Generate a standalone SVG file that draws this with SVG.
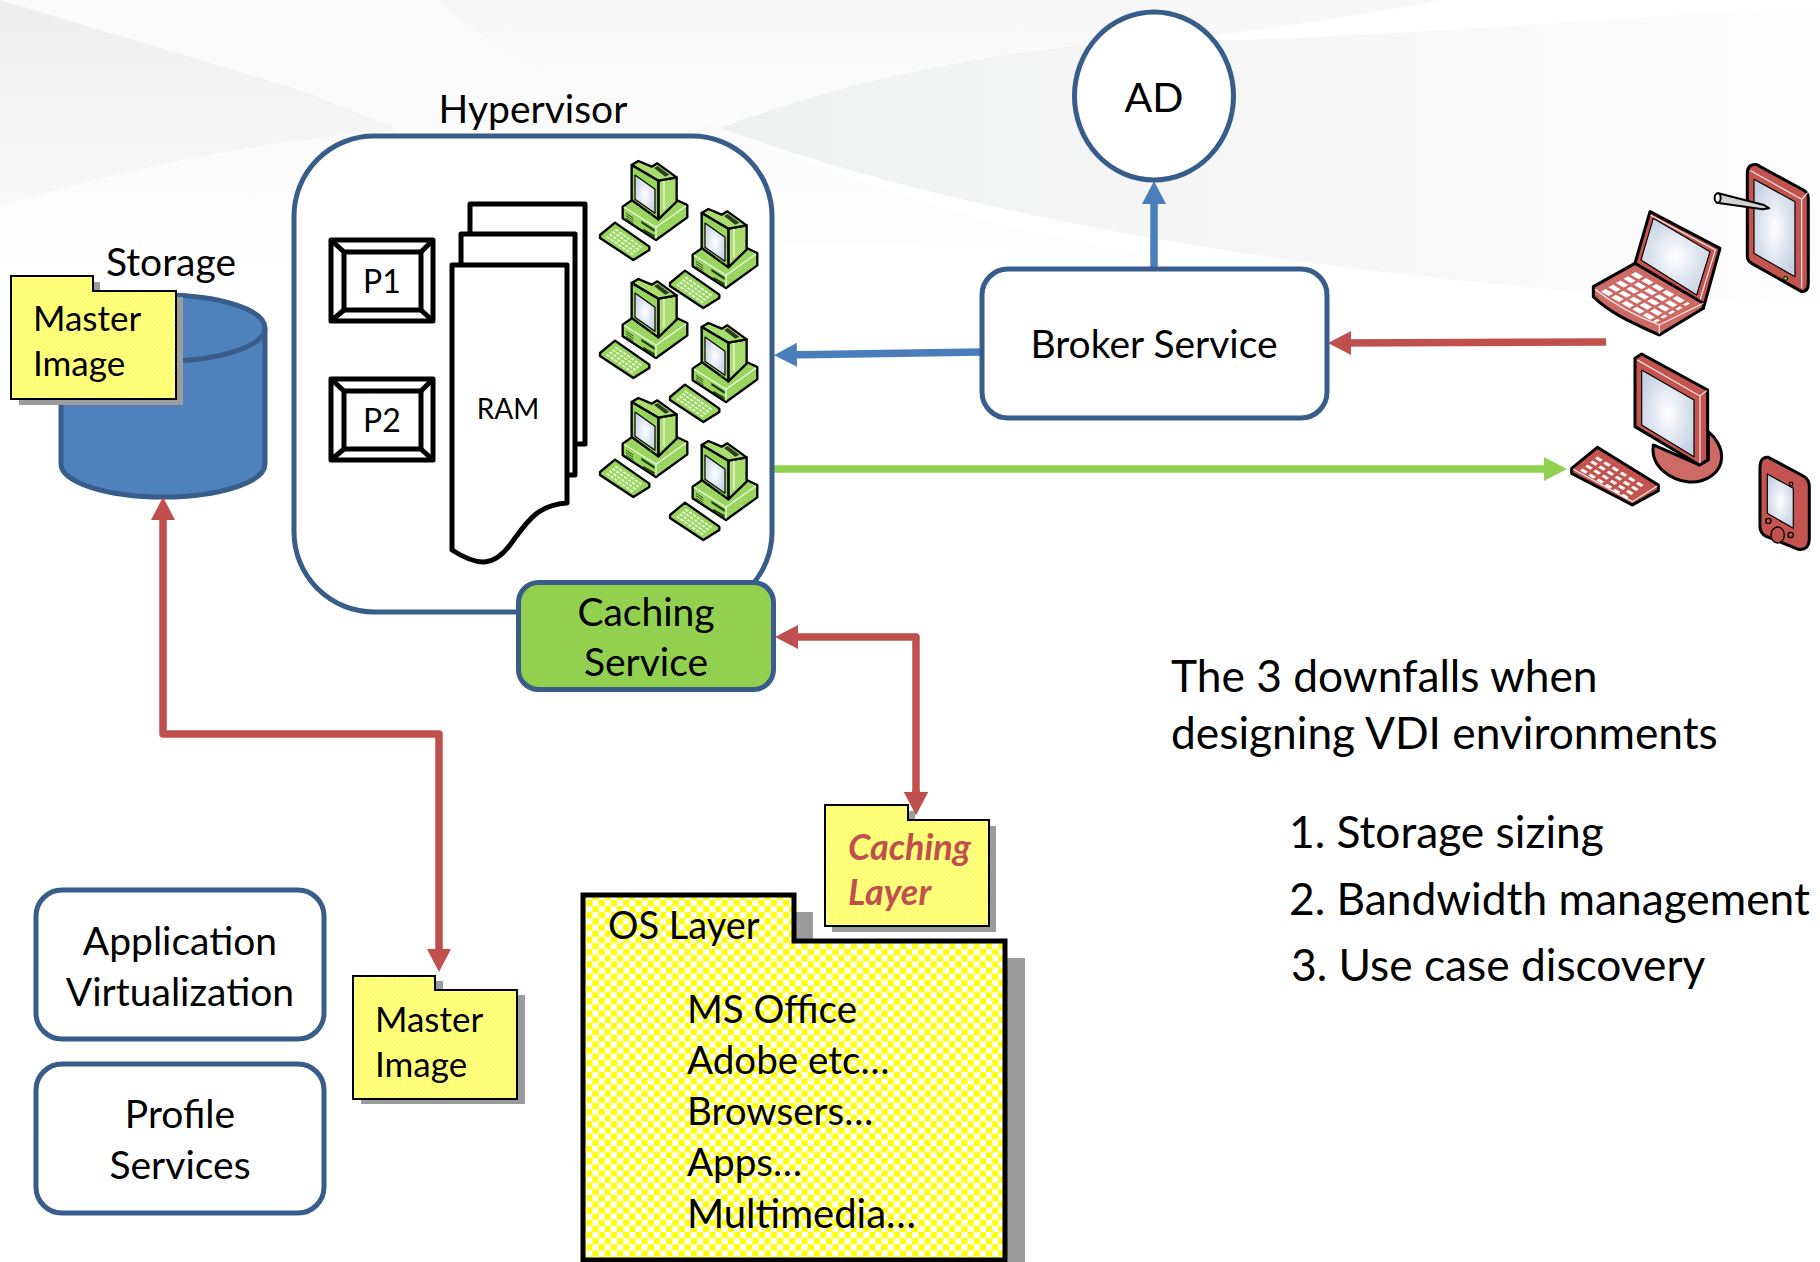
<svg xmlns="http://www.w3.org/2000/svg" xmlns:xlink="http://www.w3.org/1999/xlink" width="1820" height="1262" viewBox="0 0 1820 1262">
<style>
text{font-family:"Lato","Carlito","Liberation Sans",sans-serif;fill:#000;font-size:39px}
.c{text-anchor:middle}
.f{font-size:35px}
.o{font-size:38.6px}
.r{font-size:44.3px}
.cl{font-weight:700;font-style:italic;fill:#c0504d;font-size:36px}
.box{fill:#fff;stroke:#385d8a;stroke-width:5}
.k{stroke:#000;stroke-width:5;stroke-linejoin:round;fill:#fff}
.conn{fill:none;stroke-width:7.5;stroke-linejoin:round}
.sh{fill:#9c9c9c}
.pc{stroke:#000;stroke-width:7;stroke-linejoin:round}
.hl{stroke:#fff;stroke-width:3.5;fill:none;opacity:.9}
.rd{fill:#c4544f;stroke:#000;stroke-width:9;stroke-linejoin:round}
.rl{fill:#cd6a66;stroke:#000;stroke-width:9;stroke-linejoin:round}
.scr{fill:url(#scr);stroke:#000;stroke-width:3.5;stroke-linejoin:round}
</style>
<defs>
<radialGradient id="scr" cx=".5" cy=".5" r=".6"><stop offset="0" stop-color="#fff"/><stop offset="1" stop-color="#c3cfe2"/></radialGradient>
<linearGradient id="g1" x1="0" y1="0" x2="0" y2="1"><stop offset="0" stop-color="#eeeeee"/><stop offset="1" stop-color="#f9f9f9"/></linearGradient>
<linearGradient id="g2" x1="0" y1="0" x2="1" y2="0"><stop offset="0" stop-color="#eff0f0"/><stop offset=".55" stop-color="#f7f7f7"/><stop offset="1" stop-color="#fefefe"/></linearGradient>
<linearGradient id="g4" x1="0" y1="0" x2="0" y2="1"><stop offset="0" stop-color="#f7f7f7"/><stop offset="1" stop-color="#fdfdfd"/></linearGradient>
<linearGradient id="g5" x1="0" y1="0" x2="0" y2="1"><stop offset="0" stop-color="#fbfbfb"/><stop offset="1" stop-color="#fff"/></linearGradient>
<pattern id="chk" width="12.3" height="12.3" patternUnits="userSpaceOnUse" x="2" y="2"><rect width="12.3" height="12.3" fill="#ff0"/><rect width="6.15" height="6.15" fill="#fff"/><rect x="6.15" y="6.15" width="6.15" height="6.15" fill="#fff"/></pattern>
<pattern id="chs" width="4.8" height="4.8" patternUnits="userSpaceOnUse"><rect width="4.8" height="4.8" fill="#ffff4a"/><rect width="2.4" height="2.4" fill="#ffffa8"/><rect x="2.4" y="2.4" width="2.4" height="2.4" fill="#ffffa8"/></pattern>
<marker id="mr" markerUnits="userSpaceOnUse" markerWidth="24" markerHeight="26" refX="13" refY="12.5" orient="auto-start-reverse"><path d="M0 .5L23 12.5L0 24.5Z" fill="#c0504d"/></marker>
<marker id="mb" markerUnits="userSpaceOnUse" markerWidth="24" markerHeight="26" refX="13" refY="12.5" orient="auto-start-reverse"><path d="M0 .5L23 12.5L0 24.5Z" fill="#4a7ebb"/></marker>
<marker id="mg" markerUnits="userSpaceOnUse" markerWidth="24" markerHeight="26" refX="13" refY="12.5" orient="auto-start-reverse"><path d="M0 .5L23 12.5L0 24.5Z" fill="#92d050"/></marker>
<g id="pc" transform="scale(.3333)">
<path class="pc" fill="#9ad65f" d="M128 170L160 148L290 150L322 165L322 202L228 270L128 205Z"/>
<path class="hl" d="M132 172L228 232L318 168M228 232V266"/>
<path d="M138 190L160 204M138 197L160 211M138 204L160 218" stroke="#1d3a0a" stroke-width="2.5"/>
<path d="M184 212L224 238V246L184 220ZM190 236L224 256V262L190 242Z" fill="#1d3a0a"/>
<path class="pc" fill="#a9dd70" d="M235 92L290 82V155L235 208Z"/>
<path class="pc" fill="#a9dd70" d="M155 45L175 33L215 50L232 40L290 82L235 92Z"/>
<path d="M222 54L233 48L268 74L256 80Z" fill="#2b3d22"/>
<path class="pc" fill="#97d45c" d="M155 45L235 92V208L155 150Z"/>
<path class="scr" d="M165 75L225 118V190L165 148Z"/>
<circle cx="214" cy="192" r="4" fill="#2d5016"/>
<path class="hl" d="M252 92V178"/>
<path class="pc" fill="#9ad65f" d="M60 255L105 218L208 290V300L160 330L60 264Z"/>
<g transform="matrix(.98 .68 -.43 .36 106 226)"><path d="M8 18H92M8 38H92M8 58H92M8 78H92" stroke="#eff9e3" stroke-width="10" stroke-dasharray="8 4" fill="none"/></g>
</g>
</defs>

<g id="background">
<rect width="1820" height="1262" fill="#fff"/>
<path d="M0 0H438C500 60 600 100 720 128L400 130L300 90Z" fill="#fbfbfb"/>
<path d="M0 0V206C120 170 260 140 400 130L300 90Z" fill="url(#g1)"/>
<path d="M0 206C120 170 260 140 400 130C550 125 650 128 720 128C900 200 1000 230 1200 262C800 230 400 240 0 290Z" fill="url(#g5)"/>
<path d="M438 0C500 60 600 100 720 128C880 70 1240 40 1440 0Z" fill="url(#g4)"/>
<path d="M720 128C900 60 1100 35 1240 40C1400 35 1600 20 1820 5V305C1400 290 1000 230 720 128Z" fill="url(#g2)"/>
</g>

<g id="connectors">
<path class="conn" stroke="#4a7ebb" d="M1154 269V191" marker-end="url(#mb)"/>
<path class="conn" stroke="#4a7ebb" d="M982 352L784 355" marker-end="url(#mb)"/>
<path class="conn" stroke="#c0504d" d="M1606 342L1338 343" marker-end="url(#mr)"/>
<path class="conn" stroke="#92d050" d="M772 469H1557" marker-end="url(#mg)" stroke-width="6"/>
</g>

<g id="hypervisor"><rect class="box" x="294" y="136" width="478" height="476" rx="80"/></g>
<text x="533" y="123" class="c">Hypervisor</text>

<g id="cpu1"><rect class="k" x="331" y="240" width="102" height="81"/><rect class="k" x="344" y="252" width="77" height="58"/><path d="M331 240L344 252M433 240L421 252M331 321L344 310M433 321L421 310" stroke="#000" stroke-width="5"/><text x="382" y="293" class="c" style="font-size:32px">P1</text></g>
<g id="cpu2"><rect class="k" x="331" y="379" width="102" height="81"/><rect class="k" x="344" y="391" width="77" height="58"/><path d="M331 379L344 391M433 379L421 391M331 460L344 449M433 460L421 449" stroke="#000" stroke-width="5"/><text x="382" y="432" class="c" style="font-size:32px">P2</text></g>

<g id="ram">
<path class="k" d="M470 204H585V444H470Z"/>
<path class="k" d="M461 234H575V475H461Z"/>
<path class="k" d="M452 265H567V503C535 505 525 525 510 545C495 565 480 568 452 550Z"/>
<text x="508" y="419" class="c" style="font-size:28px">RAM</text>
</g>

<g id="pcs">
<use href="#pc" x="580" y="150"/>
<use href="#pc" x="650" y="198"/>
<use href="#pc" x="580" y="268"/>
<use href="#pc" x="650" y="312"/>
<use href="#pc" x="580" y="387"/>
<use href="#pc" x="650" y="430"/>
</g>

<g id="caching-service"><rect x="518.5" y="582.5" width="255" height="107" rx="20" fill="#92d050" stroke="#385d8a" stroke-width="5"/><text x="646" y="626" class="c">Caching</text><text x="646" y="676" class="c">Service</text></g>

<g id="connectors2">
<path class="conn" stroke="#c0504d" d="M785 637H916V805" marker-start="url(#mr)" marker-end="url(#mr)"/>
</g>

<g id="ad"><ellipse class="box" cx="1154" cy="96" rx="79.5" ry="84"/><text x="1154" y="112" class="c" style="font-size:41px">AD</text></g>
<g id="broker"><rect class="box" x="982" y="269" width="345" height="149" rx="26"/><text x="1154" y="358" class="c">Broker Service</text></g>

<g id="storage">
<path d="M61 328V464A102 33 0 0 0 265 464V328" fill="#4f81bd" stroke="#385d8a" stroke-width="5"/>
<ellipse cx="163" cy="328" rx="102" ry="33" fill="#4f81bd" stroke="#385d8a" stroke-width="5"/>
</g>
<text x="171" y="276" class="c">Storage</text>

<g id="storage-image">
<path class="sh" d="M19 282H100V297H183V405H19Z"/>
<path d="M11 276H93V291H176V399H11Z" fill="url(#chs)" stroke="#000" stroke-width="2"/>
<text x="33" y="331" class="f">Master</text><text x="33" y="376" class="f">Image</text>
</g>

<g id="connectors3">
<path class="conn" stroke="#c0504d" d="M163 507V734H439V962" marker-start="url(#mr)" marker-end="url(#mr)"/>
</g>

<g id="app-virt"><rect class="box" x="36" y="890" width="288" height="149" rx="26"/><text x="180" y="955" class="c">Application</text><text x="180" y="1006" class="c">Virtualization</text></g>
<g id="profile"><rect class="box" x="36" y="1064" width="288" height="149" rx="26"/><text x="180" y="1128" class="c">Profile</text><text x="180" y="1179" class="c">Services</text></g>

<g id="master-image">
<path class="sh" d="M361 981H443V995H525V1104H361Z"/>
<path d="M353 976H435V990H517V1099H353Z" fill="url(#chs)" stroke="#000" stroke-width="2"/>
<text x="375" y="1032" class="f">Master</text><text x="375" y="1077" class="f">Image</text>
</g>

<g id="caching-layer">
<path class="sh" d="M832 811H915V826H996V932H832Z"/>
<path d="M825 805H908V820H989V926H825Z" fill="url(#chs)" stroke="#000" stroke-width="2"/>
<text x="848" y="860" class="cl">Caching</text>
<text x="848" y="905" class="cl">Layer</text>
</g>
<path class="conn" stroke="#c0504d" d="M916 790V805" marker-end="url(#mr)"/>

<g id="os-layer">
<path class="sh" d="M790 912H813V958H1025V1262H790Z"/>
<path d="M583 895H794V941H1005V1260H583Z" fill="url(#chk)" stroke="#000" stroke-width="5"/>
<text x="608" y="939" style="font-size:38px">OS Layer</text>
<text x="687" y="1023" class="o">MS Office</text><text x="687" y="1074" class="o">Adobe etc…</text><text x="687" y="1125" class="o">Browsers…</text><text x="687" y="1176" class="o">Apps…</text><text x="687" y="1228" style="font-size:40px">Multimedia…</text>
</g>

<g id="devices" transform="translate(1540 140) scale(.3333)">
<g id="tablet">
<path class="rd" d="M622 95Q625 72 650 74L790 150Q805 158 805 175V430Q805 455 785 455L635 370Q622 362 622 350Z"/>
<path class="hl" d="M632 92L785 178V445M785 178L803 158"/>
<path class="scr" d="M642 118L765 185V410L642 340Z"/>
<circle cx="737" cy="415" r="6" fill="#7fc241" stroke="#000" stroke-width="3"/>
<path d="M535 160L672 195L688 205L668 208L530 188Z" fill="#d2d2d2" stroke="#000" stroke-width="6" stroke-linejoin="round"/>
<ellipse cx="533" cy="174" rx="9" ry="14" fill="#fff" stroke="#000" stroke-width="6"/>
</g>
<g id="laptop">
<path class="rd" d="M330 215L540 325L490 505L285 370Z"/>
<path class="hl" d="M332 226L526 330L480 480"/>
<path class="scr" d="M340 235L510 335L470 465L303 360Z"/>
<path class="rl" d="M160 440L285 370L490 490V505L358 585C280 550 210 520 160 470Z"/>
<path class="hl" d="M165 448C230 500 290 530 358 555L490 490M358 555V582"/>
<g transform="matrix(1.95 1.12 -1.25 .7 284 380)"><path d="M8 16H92M8 34H92M8 52H92M8 70H92M8 88H92" stroke="#fff" stroke-width="11" stroke-dasharray="12 4" fill="none"/></g>
</g>
<g id="desktop">
<path class="rl" d="M340 915C330 985 400 1022 445 1026C495 1030 545 1000 545 950C545 925 530 895 505 875V960L478 975Z"/>
<path class="rd" d="M285 655L305 642L503 750V960L478 975L285 860Z"/>
<path class="hl" d="M292 660L480 768V970M480 768L500 752"/>
<path class="scr" d="M305 690L462 780V950L305 855Z"/>
<path class="rd" d="M95 985L172 922L355 1035V1052L277 1095L95 1000Z"/>
<path class="hl" d="M100 988L277 1085L352 1038"/>
<g transform="matrix(1.75 1.08 -.75 .6 170 932)"><path d="M8 20H92M8 40H92M8 60H92M8 80H92" stroke="#fff" stroke-width="10" stroke-dasharray="9 5" fill="none"/></g>
</g>
<g id="pda">
<path class="rd" d="M660 985Q660 950 685 952L790 1008Q808 1018 808 1040V1195Q808 1232 775 1228L680 1190Q660 1180 660 1160Z"/>
<path class="scr" d="M682 1002L760 1045V1165L682 1120Z"/>
<circle cx="685" cy="1143" r="8" fill="#c0504d" stroke="#000" stroke-width="4"/>
<ellipse cx="713" cy="1185" rx="20" ry="24" fill="#c0504d" stroke="#000" stroke-width="4"/>
<circle cx="752" cy="1185" r="8" fill="#c0504d" stroke="#000" stroke-width="4"/>
<rect x="748" y="1027" width="10" height="10" fill="#c0504d" stroke="#000" stroke-width="3"/>
</g>
</g>

<g id="downfalls">
<text x="1171" y="692" class="r">The 3 downfalls when</text>
<text x="1171" y="749" class="r">designing VDI environments</text>
<text x="1289" y="848" class="r">1. Storage sizing</text>
<text x="1289" y="915" class="r">2. Bandwidth management</text>
<text x="1291" y="981" class="r">3. Use case discovery</text>
</g>
</svg>
